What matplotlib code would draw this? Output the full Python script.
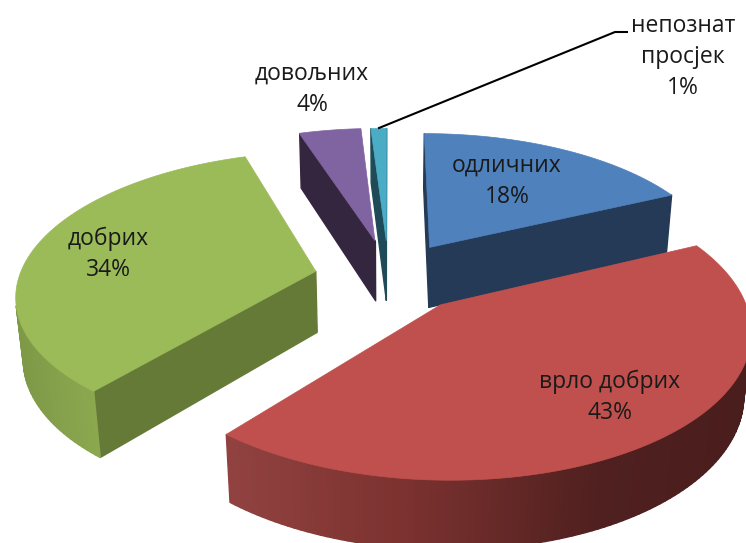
import numpy as np
import matplotlib
matplotlib.use("Agg")
import matplotlib.pyplot as plt
from matplotlib.collections import PolyCollection
from matplotlib.colors import to_rgb

# ---- data ----
categories = ["одличних", "врло добрих", "добрих", "довољних", "непознат\nпросјек"]
values = [18, 43, 34, 4, 1]

# ---- style / layout ----
top_colors = ["#4f81bd", "#c0504d", "#9bbb59", "#8064a2", "#4bacc6"]
flat_wall = ["#243a56", None, "#667a38", "#35263f", "#1f4a58"]
red_ramp = ([230, 400, 600, 746], ["#914240", "#7c3230", "#4f201f", "#4a1e1d"])
green_ramp = ([10, 50, 104], ["#7d9846", "#84a04b", "#8dab50"])
explode_x = [0.145, 0.172, -0.245, -0.046, -0.006]
explode_y = [-0.138, 0.275, 0.040, -0.190, -0.190]
draw_order = [4, 3, 0, 2, 1]
label_xy = [(507, 181), (610, 397), (108, 254), (312, 89), (683, 57)]

CX, CY, F, A, DEPTH, P, Q = 388, 265.8, 293, 136, 62, 0.15, 0.02


def project(x, y, z):
    s = 1 / (1 - P * y + Q * z)
    return CX + F * x * s, CY + (A * y + DEPTH * z) * s


def shoelace(pts):
    p = np.asarray(pts)
    q = np.roll(p, -1, axis=0)
    return np.sum(p[:, 0] * q[:, 1] - q[:, 0] * p[:, 1])


def ramp_color(x, ramp):
    xs, cols = ramp
    rgb = np.array([to_rgb(c) for c in cols])
    return tuple(np.interp(x, xs, rgb[:, i]) for i in range(3))


fig = plt.figure(figsize=(7.46, 5.43), dpi=100)
ax = fig.add_axes([0, 0, 1, 1])
ax.set_xlim(0, 746)
ax.set_ylim(543, 0)
ax.axis("off")

fractions = np.array(values) / np.sum(values)
edges = np.concatenate([[0], np.cumsum(fractions)]) * 2 * np.pi

for i in draw_order:
    th = np.linspace(edges[i], edges[i + 1], max(int(values[i] * 3), 6))
    wx = np.concatenate([[explode_x[i]], explode_x[i] + np.sin(th)])
    wy = np.concatenate([[explode_y[i]], explode_y[i] - np.cos(th)])
    top = np.column_stack(project(wx, wy, 0 * wx))
    bot = np.column_stack(project(wx, wy, 0 * wx + 1))
    n = len(top)
    quads, cols = [], []
    for j in range(n):
        k = (j + 1) % n
        quad = [top[j], top[k], bot[k], bot[j]]
        if shoelace(quad) < 0:
            is_radial = j == 0 or k == 0
            if i == 1:
                c = ramp_color(0.5 * (top[j][0] + top[k][0]), red_ramp)
            elif i == 2 and not is_radial:
                c = ramp_color(0.5 * (top[j][0] + top[k][0]), green_ramp)
            else:
                c = flat_wall[i]
            quads.append(quad)
            cols.append(c)
    z = 2 + draw_order.index(i)
    ax.add_collection(PolyCollection(quads, facecolors=cols, edgecolors=cols,
                                     linewidths=1.0, zorder=z))
    ax.fill(top[:, 0], top[:, 1], color=top_colors[i], lw=0.5, zorder=z + 0.5)

# leader line for the smallest slice
ax.plot([379, 615, 627], [128, 32, 32], color="black", lw=1.5, zorder=20, solid_joinstyle="round")

for i, name in enumerate(categories):
    x, y = label_xy[i]
    ax.text(x, y, f"{name}\n{values[i]}%", ha="center", va="center", fontsize=16.5,
            family="Open Sans", color="#1a1a1a", linespacing=1.4, zorder=30)

fig.savefig("out.png", dpi=100)
